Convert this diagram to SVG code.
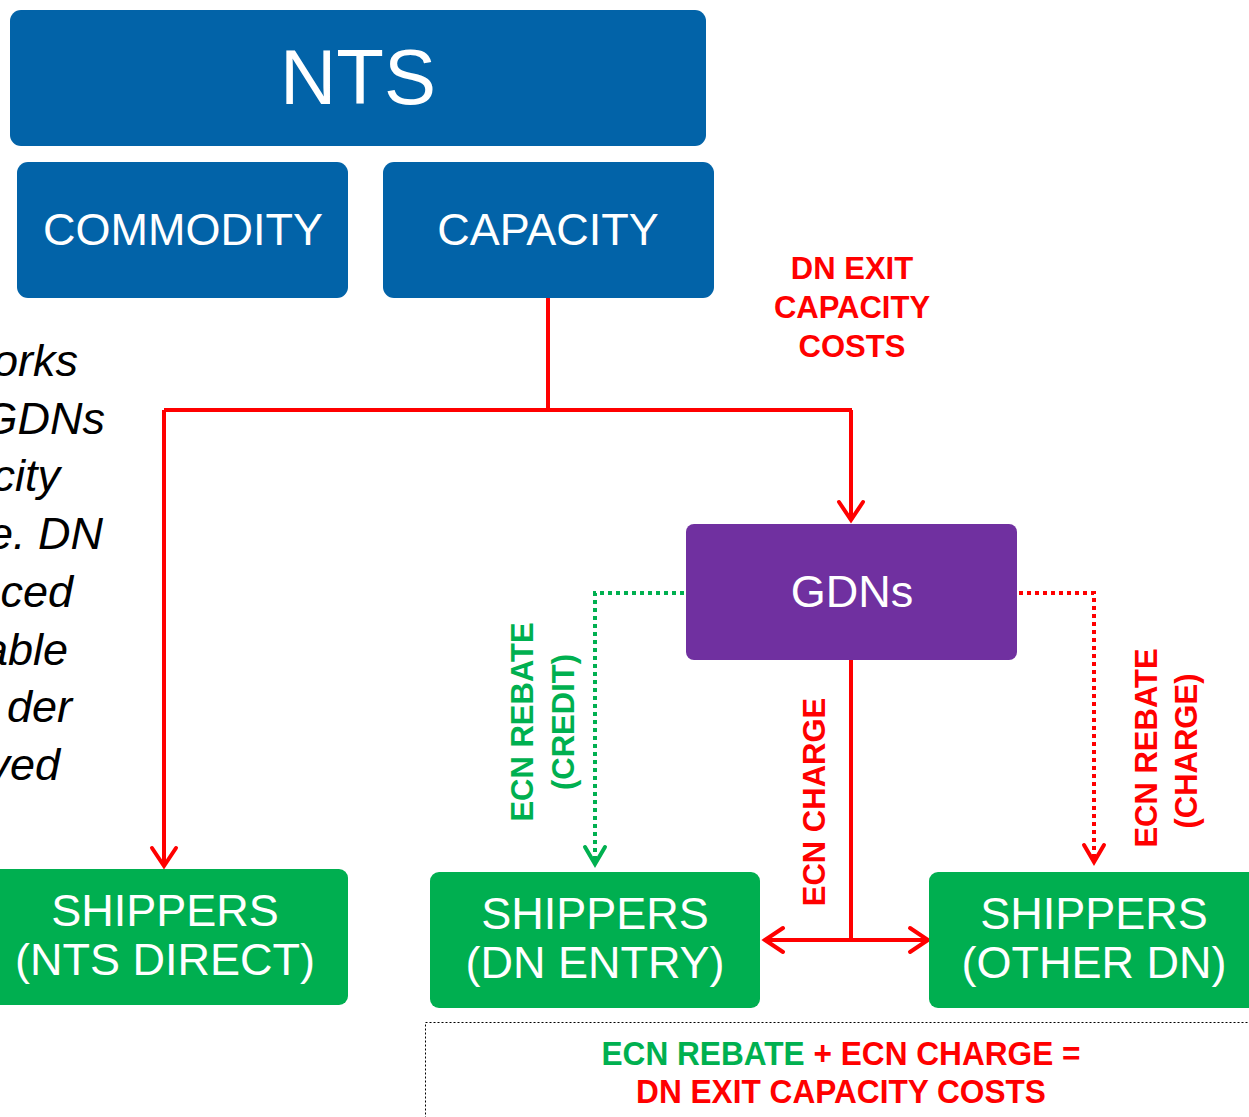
<svg xmlns="http://www.w3.org/2000/svg" width="1249" height="1117" viewBox="0 0 1249 1117">
  <style>
    .blue { fill: #0263A8; }
    .purple { fill: #7030A0; }
    .green { fill: #00AF50; }
    .lbl { font-family: "Liberation Sans", Arial, sans-serif; fill: #FFFFFF; text-anchor: middle; }
    .note { font-family: "Liberation Sans", Arial, sans-serif; font-weight: bold; text-anchor: middle; font-size: 31px; }
    .sum { font-size: 34px; }
    .side { font-family: "Liberation Sans", Arial, sans-serif; font-style: italic; font-size: 45px; fill: #000000; text-anchor: end; }
    .red-t { fill: #FF0000; }
    .green-t { fill: #00B050; }
    .solid { fill: none; stroke: #FF0000; stroke-width: 4; }
    .dot-g { fill: none; stroke: #00B050; stroke-width: 4; stroke-dasharray: 4 4; }
    .dot-r { fill: none; stroke: #FF0000; stroke-width: 4; stroke-dasharray: 4 4; }
  </style>
  <defs>
    <marker id="headRed" markerUnits="userSpaceOnUse" markerWidth="40" markerHeight="40" viewBox="-20 -20 40 40" refX="0" refY="0" orient="auto" overflow="visible">
      <path d="M-18,-12 L0,0 L-18,12" fill="none" stroke="#FF0000" stroke-width="4" stroke-linecap="round"/>
    </marker>
    <marker id="headGreen" markerUnits="userSpaceOnUse" markerWidth="40" markerHeight="40" viewBox="-20 -20 40 40" refX="0" refY="0" orient="auto" overflow="visible">
      <path d="M-17,-10 L0,0 L-17,10" fill="none" stroke="#00B050" stroke-width="4" stroke-linecap="round"/>
    </marker>
    <marker id="headRedSm" markerUnits="userSpaceOnUse" markerWidth="40" markerHeight="40" viewBox="-20 -20 40 40" refX="0" refY="0" orient="auto" overflow="visible">
      <path d="M-17,-10 L0,0 L-17,10" fill="none" stroke="#FF0000" stroke-width="4" stroke-linecap="round"/>
    </marker>
  </defs>

  <rect width="1249" height="1117" fill="#FFFFFF"/>

  <!-- explanatory paragraph running off the left edge -->
  <g id="side-text">
    <text class="side" x="78" y="376">orks</text>
    <text class="side" x="105" y="434">GDNs</text>
    <text class="side" x="60" y="491">city</text>
    <text class="side" x="103" y="549">e. DN</text>
    <text class="side" x="73" y="607">ced</text>
    <text class="side" x="68" y="665">able</text>
    <text class="side" x="72" y="722">der</text>
    <text class="side" x="60" y="780">ved</text>
  </g>

  <!-- connectors -->
  <g id="connectors">
    <path class="solid" d="M548,298 V410"/>
    <path class="solid" d="M164,410 H852"/>
    <path class="solid" d="M164,410 V866" marker-end="url(#headRed)"/>
    <path class="solid" d="M851,410 V520" marker-end="url(#headRed)"/>
    <path class="dot-g" d="M684,593 H595 V864" marker-end="url(#headGreen)"/>
    <path class="dot-r" d="M1019,593 H1094 V862" marker-end="url(#headRedSm)"/>
    <path class="solid" d="M851,660 V940"/>
    <path class="solid" d="M851,940 H765" marker-end="url(#headRed)"/>
    <path class="solid" d="M851,940 H928" marker-end="url(#headRed)"/>
  </g>

  <!-- connector labels -->
  <g id="labels">
    <text class="note red-t" x="852" y="279">DN EXIT</text>
    <text class="note red-t" x="852" y="318">CAPACITY</text>
    <text class="note red-t" x="852" y="357">COSTS</text>
    <g transform="translate(533,722) rotate(-90)">
      <text class="note green-t" x="0" y="0">ECN REBATE</text>
      <text class="note green-t" x="0" y="41">(CREDIT)</text>
    </g>
    <g transform="translate(825,802) rotate(-90)">
      <text class="note red-t" x="0" y="0">ECN CHARGE</text>
    </g>
    <g transform="translate(1157,748) rotate(-90)">
      <text class="note red-t" x="0" y="0">ECN REBATE</text>
      <text class="note red-t" x="-3" y="40">(CHARGE)</text>
    </g>
  </g>

  <!-- nodes -->
  <g id="nts">
    <rect class="blue" x="10" y="10" width="696" height="136" rx="11"/>
    <text class="lbl" x="358" y="104" font-size="78">NTS</text>
  </g>
  <g id="commodity">
    <rect class="blue" x="17" y="162" width="331" height="136" rx="11"/>
    <text class="lbl" x="183" y="245" font-size="45">COMMODITY</text>
  </g>
  <g id="capacity">
    <rect class="blue" x="383" y="162" width="331" height="136" rx="11"/>
    <text class="lbl" x="548" y="245" font-size="45">CAPACITY</text>
  </g>
  <g id="gdns">
    <rect class="purple" x="686" y="524" width="331" height="136" rx="8"/>
    <text class="lbl" x="852" y="607" font-size="45">GDNs</text>
  </g>
  <g id="shippers-nts-direct">
    <rect class="green" x="-10" y="869" width="358" height="136" rx="9"/>
    <text class="lbl" x="165" y="926" font-size="45">SHIPPERS</text>
    <text class="lbl" x="165" y="975" font-size="45">(NTS DIRECT)</text>
  </g>
  <g id="shippers-dn-entry">
    <rect class="green" x="430" y="872" width="330" height="136" rx="9"/>
    <text class="lbl" x="595" y="929" font-size="45">SHIPPERS</text>
    <text class="lbl" x="595" y="978" font-size="45">(DN ENTRY)</text>
  </g>
  <g id="shippers-other-dn">
    <rect class="green" x="929" y="872" width="340" height="136" rx="9"/>
    <text class="lbl" x="1094" y="929" font-size="45">SHIPPERS</text>
    <text class="lbl" x="1094" y="978" font-size="45">(OTHER DN)</text>
  </g>

  <!-- summary note -->
  <g id="summary">
    <rect x="425.5" y="1022.5" width="840" height="120" fill="none" stroke="#000000" stroke-width="1" stroke-dasharray="2 2"/>
    <g transform="translate(841,0) scale(0.93,1)">
      <text class="note sum" x="0" y="1065"><tspan class="green-t">ECN REBATE</tspan><tspan class="red-t"> + ECN CHARGE =</tspan></text>
      <text class="note sum red-t" x="0" y="1103">DN EXIT CAPACITY COSTS</text>
    </g>
  </g>
</svg>
